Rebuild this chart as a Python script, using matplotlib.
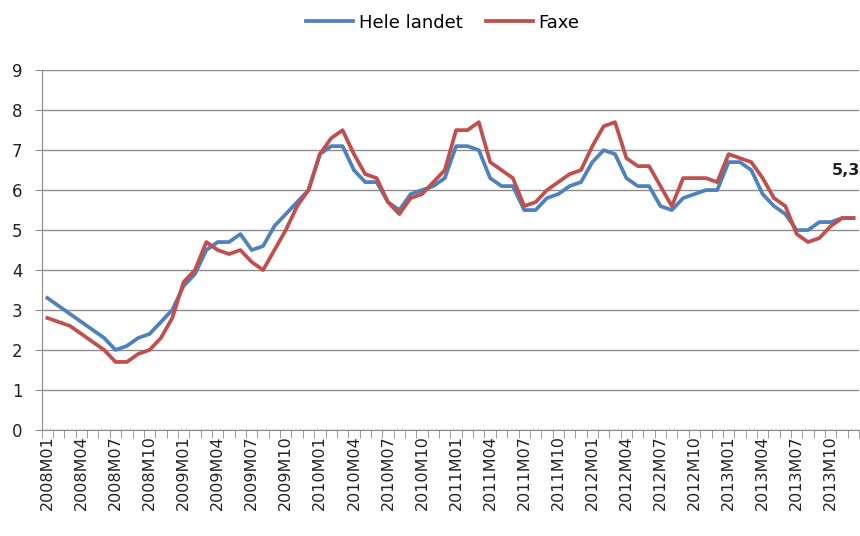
import numpy as np
import matplotlib
matplotlib.use("Agg")
import matplotlib.pyplot as plt

# Måneder 2008M01 - 2013M12
months = [f"{y}M{m:02d}" for y in range(2008, 2014) for m in range(1, 13)]

hele_landet = [3.3, 3.1, 2.9, 2.7, 2.5, 2.3, 2.0, 2.1, 2.3, 2.4, 2.7, 3.0,
               3.6, 3.9, 4.5, 4.7, 4.7, 4.9, 4.5, 4.6, 5.1, 5.4, 5.7, 6.0,
               6.9, 7.1, 7.1, 6.5, 6.2, 6.2, 5.7, 5.5, 5.9, 6.0, 6.1, 6.3,
               7.1, 7.1, 7.0, 6.3, 6.1, 6.1, 5.5, 5.5, 5.8, 5.9, 6.1, 6.2,
               6.7, 7.0, 6.9, 6.3, 6.1, 6.1, 5.6, 5.5, 5.8, 5.9, 6.0, 6.0,
               6.7, 6.7, 6.5, 5.9, 5.6, 5.4, 5.0, 5.0, 5.2, 5.2, 5.3, 5.3]

faxe = [2.8, 2.7, 2.6, 2.4, 2.2, 2.0, 1.7, 1.7, 1.9, 2.0, 2.3, 2.8,
        3.7, 4.0, 4.7, 4.5, 4.4, 4.5, 4.2, 4.0, 4.5, 5.0, 5.6, 6.0,
        6.9, 7.3, 7.5, 6.9, 6.4, 6.3, 5.7, 5.4, 5.8, 5.9, 6.2, 6.5,
        7.5, 7.5, 7.7, 6.7, 6.5, 6.3, 5.6, 5.7, 6.0, 6.2, 6.4, 6.5,
        7.1, 7.6, 7.7, 6.8, 6.6, 6.6, 6.1, 5.6, 6.3, 6.3, 6.3, 6.2,
        6.9, 6.8, 6.7, 6.3, 5.8, 5.6, 4.9, 4.7, 4.8, 5.1, 5.3, 5.3]

blue = "#4F81BD"
red = "#C0504D"
grid = "#8C8C8C"

fig = plt.figure(figsize=(8.6, 5.36), dpi=100)
ax = fig.add_axes([0.0485, 0.198, 0.9505, 0.671])

x = np.arange(len(months))
ax.plot(x, hele_landet, color=blue, lw=2.7, label="Hele landet", solid_joinstyle="round")
ax.plot(x, faxe, color=red, lw=2.7, label="Faxe", solid_joinstyle="round")

# dataetiket for sidste punkt
ax.annotate("5,3", xy=(x[-1], faxe[-1]), xytext=(5, 29), textcoords="offset points",
            ha="right", va="bottom", fontsize=11.5, fontweight="bold", color="#222222")

ax.set_xlim(-0.5, len(months) - 0.5)
ax.set_ylim(0, 9)
ax.set_yticks(range(0, 10))
ax.yaxis.grid(True, color=grid, lw=1)
ax.set_axisbelow(True)

ax.set_xticks(x[::3])
ax.set_xticklabels(months[::3], rotation=90, fontsize=11.5, color="#222222")
ax.set_xticks(np.arange(-0.5, len(months)), minor=True)
ax.tick_params(axis="x", which="major", length=0, pad=4)
ax.tick_params(axis="x", which="minor", length=6, color=grid)
ax.tick_params(axis="y", length=5, color=grid, labelsize=12, labelcolor="#222222", pad=9)

for s in ["top", "right"]:
    ax.spines[s].set_visible(False)
for s in ["left", "bottom"]:
    ax.spines[s].set_color(grid)

fig.legend(loc="upper center", bbox_to_anchor=(0.515, 1.005), ncol=2, frameon=False,
           fontsize=13, handlelength=2.6, columnspacing=1.3, handletextpad=0.3)

fig.savefig("out.png", dpi=100)
